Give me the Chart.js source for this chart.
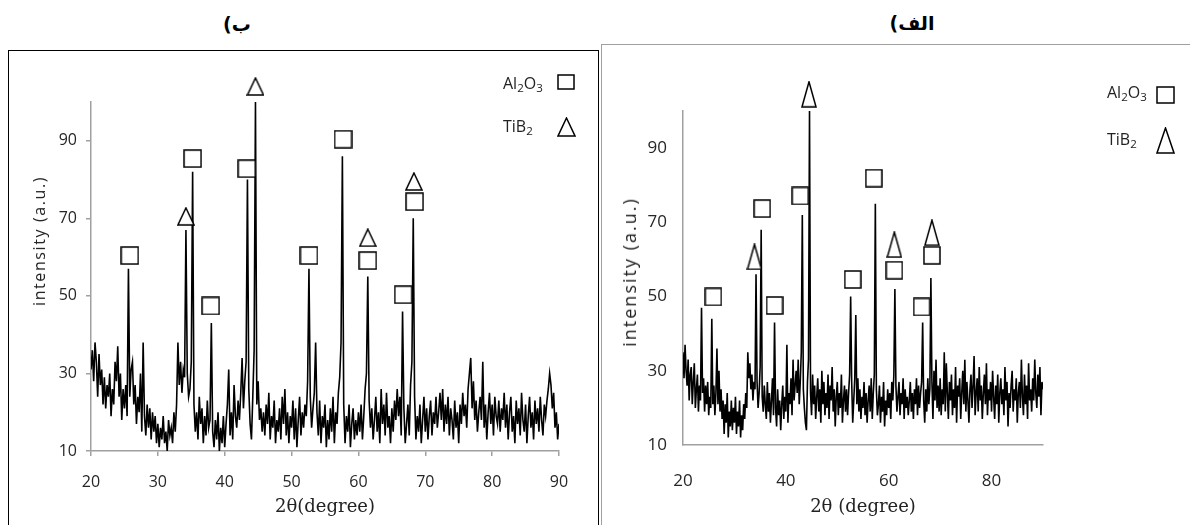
<!DOCTYPE html>
<html>
<head>
<meta charset="utf-8">
<script src="https://cdn.jsdelivr.net/npm/chart.js@4.4.0/dist/chart.umd.min.js"></script>
<style>
body { margin:0; width:1190px; height:525px; overflow:hidden; background:#fff; position:relative; font-family:"Open Sans", sans-serif; color:#222; }
.abs { position:absolute; }
#boxB { left:8px; top:50px; width:589px; height:520px; border:1.5px solid #000; }
#boxA { left:601px; top:44px; width:620px; height:520px; border:1.5px solid #a0a0a0; }
.head { font:bold 19px "DejaVu Sans", sans-serif; direction:rtl; color:#000; transform:translate(-50%,-50%); white-space:nowrap; }
.ytitle { transform:translate(-50%,-50%) rotate(-90deg); white-space:nowrap; color:#222; }
.leg { font-size:16px; line-height:1; color:#222; white-space:nowrap; transform:translateY(-50%); }
.leg sub { font-size:0.72em; vertical-align:-0.3em; line-height:0; }
canvas { display:block; }
</style>
</head>
<body>
<div id="boxB" class="abs"></div>
<div id="boxA" class="abs"></div>

<div class="abs head" style="left:237px;top:24px">ب)</div>
<div class="abs head" style="left:912px;top:23px">الف)</div>

<div class="abs" style="left:10px;top:52px"><canvas id="chartB" width="588" height="473"></canvas></div>
<div class="abs" style="left:603px;top:46px"><canvas id="chartA" width="587" height="479"></canvas></div>

<div class="abs ytitle" style="left:39px;top:241px;font-size:16px;letter-spacing:1.6px">intensity (a.u.)</div>
<div class="abs ytitle" style="left:629px;top:272px;font-size:18px;letter-spacing:2px">intensity (a.u.)</div>

<div class="abs leg" style="left:503px;top:83px">Al<sub>2</sub>O<sub>3</sub></div>
<div class="abs leg" style="left:503px;top:126px">TiB<sub>2</sub></div>
<svg class="abs" style="left:557px;top:74px" width="18" height="16"><rect x="1" y="1" width="16" height="14" fill="#fff" stroke="#000" stroke-width="1.5"/></svg>
<svg class="abs" style="left:557px;top:117px" width="19" height="20"><polygon points="9.5,1 18,19 1,19" fill="#fff" stroke="#000" stroke-width="1.5"/></svg>

<div class="abs leg" style="left:1107px;top:92px">Al<sub>2</sub>O<sub>3</sub></div>
<div class="abs leg" style="left:1107px;top:139px">TiB<sub>2</sub></div>
<svg class="abs" style="left:1156px;top:86px" width="19" height="18"><rect x="1" y="1" width="17" height="16" fill="#fff" stroke="#000" stroke-width="1.5"/></svg>
<svg class="abs" style="left:1156px;top:127px" width="19" height="27"><polygon points="9.5,1 18,26 1,26" fill="#fff" stroke="#000" stroke-width="1.5"/></svg>

<script>
// scan grid: 20 to 90 degrees, one reading every 0.2 degree
var angleStart = 20;
var angleStep = 0.2;

// pattern (b) - left panel
var intensityB = [
  31, 36, 28, 38, 33, 24, 35, 27, 31, 22,
  29, 21, 27, 24, 30, 19, 26, 22, 33, 28,
  37, 24, 30, 18, 26, 21, 27, 19, 57, 24,
  31, 33, 22, 27, 17, 24, 20, 30, 15, 38,
  19, 14, 22, 16, 21, 13, 20, 15, 19, 12,
  17, 11, 16, 13, 19, 12, 15, 10, 18, 14,
  16, 12, 20, 15, 22, 38, 27, 33, 25, 31,
  29, 67, 30, 24, 26, 33, 82, 22, 15, 20,
  13, 24, 17, 21, 12, 19, 14, 23, 16, 18,
  43, 15, 11, 18, 13, 20, 10, 16, 12, 19,
  11, 17, 22, 31, 14, 20, 13, 27, 19, 16,
  23, 18, 25, 34, 21, 28, 33, 80, 26, 17,
  13, 24, 36, 100, 22, 28, 18, 21, 15, 20,
  14, 22, 17, 25, 13, 19, 16, 23, 12, 18,
  15, 21, 13, 24, 17, 26, 14, 20, 12, 19,
  16, 23, 13, 21, 11, 18, 24, 14, 20, 16,
  22, 19, 28, 57, 24, 16, 21, 25, 38, 20,
  14, 23, 12, 19, 16, 22, 11, 18, 13, 21,
  15, 24, 12, 20, 17, 25, 29, 38, 86, 22,
  12, 19, 15, 22, 11, 17, 21, 13, 18, 14,
  20, 15, 22, 13, 19, 26, 30, 55, 23, 16,
  21, 13, 18, 24, 15, 20, 12, 26, 17, 22,
  14, 25, 16, 19, 12, 21, 15, 23, 18, 26,
  19, 24, 14, 46, 21, 12, 17, 22, 14, 27,
  33, 70, 24, 13, 19, 15, 22, 12, 18, 24,
  15, 21, 13, 19, 23, 14, 20, 17, 24, 16,
  20, 25, 18, 26, 15, 22, 17, 24, 14, 21,
  18, 13, 23, 16, 20, 12, 22, 17, 25, 19,
  22, 16, 26, 30, 34, 21, 28, 18, 23, 15,
  20, 24, 18, 33, 16, 22, 13, 20, 25, 17,
  22, 14, 24, 19, 17, 23, 15, 21, 18, 25,
  16, 22, 13, 20, 24, 15, 19, 12, 23, 17,
  21, 14, 25, 18, 15, 22, 12, 19, 24, 16,
  20, 13, 23, 17, 21, 15, 24, 18, 14, 22,
  19, 23, 26, 30, 27, 21, 25, 16, 20, 13,
  17
];
var xTicksB = [20, 30, 40, 50, 60, 70, 80, 90];
var yTicksB = [10, 30, 50, 70, 90];
var al2o3AngleB = [25.8, 35.2, 37.9, 43.3, 52.6, 57.7, 61.4, 66.7, 68.4];
var al2o3LevelB = [60.4, 85.4, 47.4, 82.8, 60.4, 90.4, 59.1, 50.3, 74.3];
var tib2AngleB = [34.2, 44.6, 61.4, 68.3];
var tib2LevelB = [70.5, 104, 65, 79.5];

// pattern (a) - right panel
var intensityA = [
  35, 28, 37, 30, 26, 33, 22, 29, 31, 21,
  27, 32, 20, 25, 29, 19, 26, 22, 47, 24,
  28, 19, 26, 21, 27, 18, 23, 20, 44, 21,
  26, 18, 24, 36, 21, 30, 19, 25, 17, 22,
  13, 21, 16, 24, 12, 19, 15, 22, 14, 20,
  16, 23, 13, 19, 15, 22, 12, 18, 14, 21,
  17, 24, 20, 35, 28, 32, 25, 29, 22, 27,
  25, 56, 27, 20, 24, 31, 68, 23, 19, 26,
  21, 17, 27, 19, 24, 16, 22, 28, 18, 43,
  20, 15, 25, 18, 22, 14, 21, 26, 17, 23,
  19, 37, 16, 24, 21, 28, 18, 33, 22, 26,
  30, 24, 33, 21, 27, 35, 72, 25, 20, 16,
  14, 27, 33, 100, 24, 18, 29, 21, 26, 17,
  23, 28, 19, 25, 16, 30, 21, 27, 18, 24,
  20, 29, 17, 26, 22, 31, 19, 25, 15, 23,
  27, 18, 24, 20, 29, 16, 22, 26, 19, 25,
  18, 24, 29, 50, 27, 16, 22, 28, 45, 21,
  28, 19, 25, 17, 23, 20, 27, 18, 24, 16,
  22, 26, 19, 28, 17, 24, 29, 75, 25, 18,
  21, 26, 16, 23, 19, 27, 15, 22, 18, 25,
  20, 24, 17, 27, 22, 29, 52, 26, 19, 23,
  27, 18, 24, 21, 28, 17, 25, 20, 23, 18,
  22, 27, 19, 24, 17, 25, 21, 28, 18, 26,
  20, 24, 27, 43, 22, 16, 25, 19, 28, 21,
  25, 55, 27, 17, 30, 22, 33, 20, 26, 19,
  28, 18, 25, 21, 35, 19, 32, 24, 17, 27,
  22, 29, 18, 25, 20, 31, 16, 26, 23, 28,
  17, 24, 30, 21, 33, 19, 27, 22, 16, 25,
  29, 20, 26, 34, 18, 24, 28, 19, 31, 22,
  26, 17, 24, 29, 21, 32, 18, 25, 22, 27,
  19, 30, 23, 17, 26, 21, 29, 16, 24, 28,
  21, 25, 18, 31, 22, 27, 15, 24, 20, 26,
  30, 19, 25, 22, 28, 16, 24, 27, 20, 33,
  23, 18, 29, 21, 26, 17, 32, 22, 25, 19,
  28, 22, 33, 24, 20, 29, 23, 31, 18, 27,
  25
];
var xTicksA = [20, 40, 60, 80];
var yTicksA = [10, 30, 50, 70, 90];
var al2o3AngleA = [25.9, 35.4, 37.8, 42.8, 53.0, 57.1, 61.1, 66.4, 68.4];
var al2o3LevelA = [49.9, 73.7, 47.6, 77.1, 54.6, 81.9, 57.1, 47.2, 61.1];
var tib2AngleA = [33.9, 44.5, 61.1, 68.4];
var tib2LevelA = [60.7, 104.5, 64, 67.2];

Chart.defaults.font.family = '"Open Sans", sans-serif';
Chart.defaults.color = '#262626';

function boxMark(w, h){
  var c = document.createElement('canvas');
  c.width = w + 2; c.height = h + 2;
  var g = c.getContext('2d');
  g.fillStyle = '#fff'; g.strokeStyle = '#000'; g.lineWidth = 1.5;
  g.fillRect(1, 1, w, h);
  g.strokeRect(1, 1, w, h);
  return c;
}
function triMark(w, h){
  var c = document.createElement('canvas');
  c.width = w + 2; c.height = h + 2;
  var g = c.getContext('2d');
  g.fillStyle = '#fff'; g.strokeStyle = '#000'; g.lineWidth = 1.5;
  g.beginPath();
  g.moveTo(1 + w / 2, 1); g.lineTo(1 + w, 1 + h); g.lineTo(1, 1 + h);
  g.closePath(); g.fill(); g.stroke();
  return c;
}

function trace(vals){
  return vals.map(function(v, i){ return {x: +(angleStart + i * angleStep).toFixed(1), y: v}; });
}
function pairs(xs, ys){
  return xs.map(function(x, i){ return {x: x, y: ys[i]}; });
}

function xrd(id, o){
  return new Chart(document.getElementById(id), {
    type: 'line',
    data: {
      datasets: [
        { data: trace(o.intensity), borderColor: '#000', borderWidth: 1.6, pointRadius: 0, order: 1 },
        { type: 'scatter', data: pairs(o.boxAt, o.boxLvl), pointStyle: o.box, pointRadius: 18, clip: false, order: 0 },
        { type: 'scatter', data: pairs(o.triAt, o.triLvl), pointStyle: o.tri, pointRadius: 18, clip: false, order: 0 }
      ]
    },
    options: {
      responsive: false,
      animation: false,
      events: [],
      layout: { padding: o.pad },
      plugins: { legend: { display: false }, tooltip: { enabled: false } },
      scales: {
        x: {
          type: 'linear', min: 20, max: 90,
          afterBuildTicks: function(s){ s.ticks = o.xTicks.map(function(v){ return {value: v}; }); },
          afterFit: function(s){ s.height = o.xH; },
          border: { color: '#a0a0a0', width: 1.5 },
          grid: { drawOnChartArea: false, drawTicks: o.marks, tickLength: 5, color: '#a0a0a0', lineWidth: 1.5 },
          ticks: { font: { size: o.fs }, padding: o.xPad, maxRotation: 0, autoSkip: false },
          title: { display: true, text: o.xTitle, color: '#222', font: { family: '"DejaVu Serif", serif', size: 18 }, padding: { top: 0, bottom: 7 } }
        },
        y: {
          min: 10, max: 100,
          afterBuildTicks: function(s){ s.ticks = o.yTicks.map(function(v){ return {value: v}; }); },
          afterFit: function(s){ s.width = o.yW; },
          border: { color: '#a0a0a0', width: 1.5 },
          grid: { drawOnChartArea: false, drawTicks: o.marks, tickLength: 5, color: '#a0a0a0', lineWidth: 1.5 },
          ticks: { font: { size: o.fs }, padding: o.yPad, autoSkip: false }
        }
      }
    }
  });
}

xrd('chartB', {
  intensity: intensityB, xTicks: xTicksB, yTicks: yTicksB,
  boxAt: al2o3AngleB, boxLvl: al2o3LevelB, triAt: tib2AngleB, triLvl: tib2LevelB,
  box: boxMark(17, 17), tri: triMark(16, 17),
  pad: { top: 50, right: 39, left: 0, bottom: 0 }, xH: 74, yW: 81,
  marks: true, fs: 16, xPad: 17, yPad: 9, xTitle: '2θ(degree)'
});

xrd('chartA', {
  intensity: intensityA, xTicks: xTicksA, yTicks: yTicksA,
  boxAt: al2o3AngleA, boxLvl: al2o3LevelA, triAt: tib2AngleA, triLvl: tib2LevelA,
  box: boxMark(16, 17), tri: triMark(14, 25),
  pad: { top: 65, right: 147, left: 0, bottom: 0 }, xH: 80, yW: 80,
  marks: false, fs: 17, xPad: 26, yPad: 16, xTitle: '2θ (degree)'
});
</script>
</body>
</html>
